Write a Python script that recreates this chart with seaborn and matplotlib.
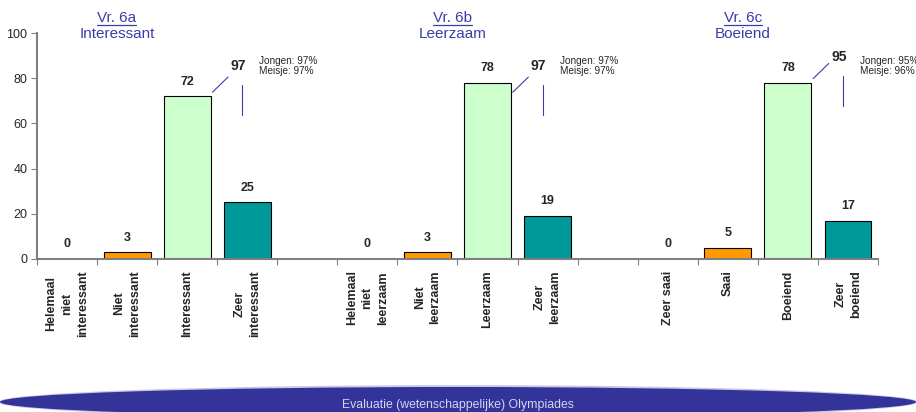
import seaborn as sns
import matplotlib.pyplot as plt
import numpy as np
import pandas as pd
from matplotlib.patches import Ellipse
from matplotlib.lines import Line2D

# Data
questions = ['Vr. 6a', 'Vr. 6b', 'Vr. 6c']
subtitles = ['Interessant', 'Leerzaam', 'Boeiend']
labels_a = ['Helemaal\nniet\ninteressant', 'Niet\ninteressant', 'Interessant', 'Zeer\ninteressant']
labels_b = ['Helemaal\nniet\nleerzaam', 'Niet\nleerzaam', 'Leerzaam', 'Zeer\nleerzaam']
labels_c = ['Zeer saai', 'Saai', 'Boeiend', 'Zeer\nboeiend']
values_a = [0, 3, 72, 25]
values_b = [0, 3, 78, 19]
values_c = [0, 5, 78, 17]
jongen = [97, 97, 95]
meisje = [97, 97, 96]
levels = ['--', '-', '+', '++']
colors = ['#FFFFFF', '#FF9900', '#CCFFCC', '#009999']
footer = 'Evaluatie (wetenschappelijke) Olympiades'

rows = []
for q, labs, vals in zip(questions, [labels_a, labels_b, labels_c], [values_a, values_b, values_c]):
    for lab, val, lev in zip(labs, vals, levels):
        rows.append({'question': q, 'label': lab, 'value': val, 'level': lev})
df = pd.DataFrame(rows)

order = labels_a + [' '] + labels_b + ['  '] + labels_c

sns.set_style('white')
plt.rcParams['font.family'] = ['Liberation Sans', 'DejaVu Sans']

fig = plt.figure(figsize=(9.16, 4.12), dpi=100)
ax = fig.add_axes([0.0404, 0.3714, 0.9181, 0.5485])

sns.barplot(data=df, x='label', y='value', hue='level', order=order, hue_order=levels,
            palette=colors, saturation=1, width=0.78, edgecolor='black', linewidth=0.8,
            errorbar=None, legend=False, ax=ax)
for p in ax.patches:
    if p.get_height() == 0:
        p.set_linewidth(0)

ax.set_xlim(-0.5, len(order) - 0.5)
ax.set_ylim(0, 100)
ax.set_xticks(np.arange(-0.5, len(order), 1))
ax.set_xticklabels([])
ax.set_yticks(np.arange(0, 101, 20))
ax.set_xlabel('')
ax.set_ylabel('')
ax.tick_params(axis='y', labelsize=9, length=4, color='#808080', direction='out', pad=3, left=True)
ax.tick_params(axis='x', length=4, color='#808080', direction='out', bottom=True)
for s in ['top', 'right']:
    ax.spines[s].set_visible(False)
for s in ['left', 'bottom']:
    ax.spines[s].set_color('#808080')
    ax.spines[s].set_linewidth(1.5)

# category labels and value labels
for _, r in df.iterrows():
    i = order.index(r['label'])
    ax.text(i, r['value'] + 6.5, str(r['value']), ha='center', va='center',
            fontsize=9, fontweight='bold')
for i, lab in enumerate(order):
    if lab.strip():
        ax.text(i, -5, lab, rotation=90, ha='center', va='top', multialignment='center',
                fontsize=9, fontweight='bold', linespacing=1.4, clip_on=False)

# titles and side annotations
title_x = [0.83, 6.42, 11.25]
ann_dy = [0, 0, 4]
blue = '#3C3CA8'
vr_texts = []
for g, (q, sub, vals) in enumerate(zip(questions, subtitles, [values_a, values_b, values_c])):
    t = ax.text(title_x[g], 106.8, q, ha='center', va='center', fontsize=11, color=blue, clip_on=False)
    vr_texts.append(t)
    ax.text(title_x[g], 99.6, sub, ha='center', va='center', fontsize=11, color=blue, clip_on=False)
    i2 = order.index([labels_a, labels_b, labels_c][g][2])
    dy = ann_dy[g]
    ax.text(i2 + 0.85, 85.4 + dy, str(vals[2] + vals[3]), ha='center', va='center',
            fontsize=10, fontweight='bold', clip_on=False)
    ax.plot([i2 + 0.42, i2 + 0.68], [73.8 + dy * 1.5, 80.5 + dy * 1.5], color=blue, lw=0.8)
    ax.plot([i2 + 0.92, i2 + 0.92], [63.7 + dy, 77 + dy], color=blue, lw=0.8)
    ax.text(i2 + 1.2, 85.2, f'Jongen: {jongen[g]}%\nMeisje: {meisje[g]}%', ha='left', va='center',
            fontsize=7.2, linespacing=1.0, clip_on=False)

# underline the question numbers
fig.canvas.draw()
inv = fig.transFigure.inverted()
for t in vr_texts:
    bb = t.get_window_extent()
    (x0, y0), (x1, _) = inv.transform([(bb.x0, bb.y0 - 0.5), (bb.x1, bb.y0)])
    fig.add_artist(Line2D([x0, x1], [y0, y0], transform=fig.transFigure, color=blue, lw=0.9))

# footer band
fig.add_artist(Ellipse((0.5, 0.0243), 1.004, 0.082, transform=fig.transFigure,
                       facecolor='#C8C8E6', edgecolor='none'))
fig.add_artist(Ellipse((0.5, 0.0243), 1.0, 0.0728, transform=fig.transFigure,
                       facecolor='#333399', edgecolor='none'))
fig.text(0.5, 0.018, footer, ha='center', va='center', fontsize=8.8, color='#D4D4F4',
         family=['Liberation Sans Narrow', 'Liberation Sans'])

fig.savefig('out.png', dpi=100)
